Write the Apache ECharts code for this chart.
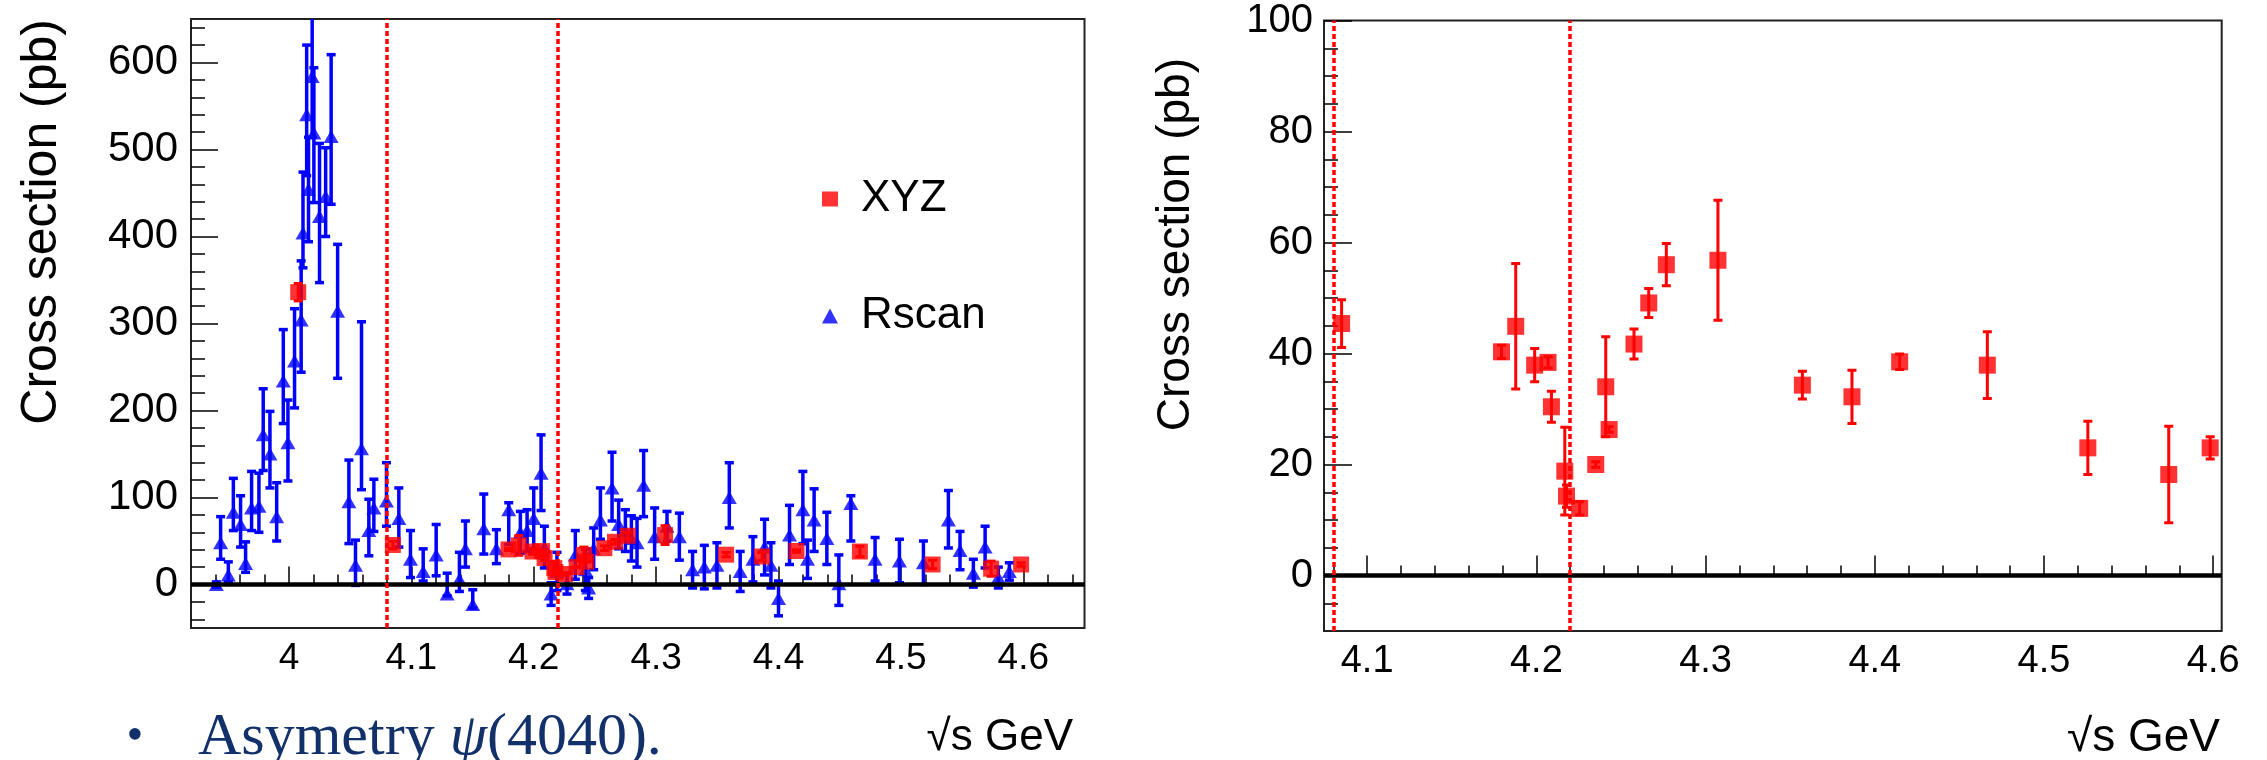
<!DOCTYPE html>
<html><head><meta charset="utf-8">
<script src="https://cdn.jsdelivr.net/npm/echarts@6/dist/echarts.min.js"></script>
<style>html,body{margin:0;padding:0;background:#fff}#c{width:2267px;height:760px}</style>
</head><body><div id="c"></div>
<script>
// ---------------- data ----------------
// Rscan (blue triangles, left panel): energy (GeV), cross section (pb), lower / upper error
const rscanE = [3.9407,3.9442,3.9505,3.9546,3.9605,3.9646,3.9695,3.9755,3.9790,3.9845,3.9900,3.9954,3.9992,4.0046,4.0100,4.0115,4.0145,4.0160,4.0190,4.0204,4.0250,4.0300,4.0345,4.0398,4.0490,4.0544,4.0593,4.0653,4.0694,4.0797,4.0898,4.0993,4.1097,4.1203,4.1293,4.1393,4.1442,4.1502,4.1592,4.1695,4.1796,4.1891,4.1946,4.2000,4.2060,4.2087,4.2142,4.2190,4.2272,4.2340,4.2422,4.2449,4.2490,4.2545,4.2640,4.2694,4.2749,4.2798,4.2844,4.2898,4.2988,4.3089,4.3190,4.3298,4.3394,4.3497,4.3598,4.3687,4.3791,4.3886,4.3938,4.4000,4.4090,4.4199,4.4237,4.4291,4.4395,4.4493,4.4591,4.4789,4.4988,4.5184,4.5388,4.5483,4.5592,4.5688,4.5796,4.5886];
const rscanV = [0,48,11,83,69,24,88,90,172,150,78,234,163,257,304,404,540,454,584,519,423,446,515,314,95,22,156,62,88,96,76,29,15,34,-11,6,41,-23,64,41,86,60,62,76,128,43,-11,15,1,34,17,-4,41,74,111,69,62,53,48,114,55,67,55,17,20,22,100,15,29,43,22,-16,57,86,29,74,53,1,93,29,27,25,74,39,13,43,8,15];
const rscanErrLo = [3,19,8,21,26,10,26,30,41,39,28,49,44,54,60,40,70,60,70,80,76,46,78,77,48,23,47,29,27,29,33,21,11,24,2,14,21,4,29,17,40,24,24,35,43,24,13,22,12,28,24,12,24,22,38,28,24,26,28,36,26,17,27,21,25,26,35,23,26,32,26,20,34,39,22,36,30,25,43,25,25,25,32,22,16,24,12,10];
const rscanErrHi = [3,30,15,39,33,25,42,38,53,49,39,59,49,60,68,70,80,60,80,75,84,56,94,77,48,29,146,36,33,44,35,33,26,35,24,31,32,17,40,22,8,24,24,35,44,24,13,22,12,28,24,12,24,37,41,28,24,26,28,40,33,17,27,21,25,26,40,23,26,32,26,20,34,44,22,36,30,33,9,25,25,25,34,22,16,24,12,10];

// XYZ (red squares, both panels)
const xyzE = [4.0076,4.0849,4.1794,4.1878,4.1990,4.2069,4.2089,4.2168,4.2178,4.2256,4.2351,4.2410,4.2430,4.2577,4.2664,4.2768,4.3073,4.3572,4.3865,4.4147,4.4665,4.5259,4.5737,4.5982];
const xyzV = [336,45.4,40.3,44.9,37.9,38.4,30.4,18.8,14.3,12.1,20.0,34.0,26.3,41.7,49.1,56.0,56.8,34.3,32.2,38.5,37.9,23.0,18.2,23.0];
const xyzErr = [10,4.3,1.2,11.3,3.0,1.0,2.8,7.9,2.0,1.2,0.5,9.0,0.5,2.7,2.6,3.8,10.8,2.5,4.8,1.4,6.0,4.8,8.7,2.0];

// reference lines (GeV)
const thresholdLines = [4.08, 4.2235];

// tick labels
const leftXTicks = [4.0,4.1,4.2,4.3,4.4,4.5,4.6];
const leftYTicks = [0,100,200,300,400,500,600];
const rightXTicks = [4.1,4.2,4.3,4.4,4.5,4.6];
const rightYTicks = [0,20,40,60,80,100];

// minor tick helper (axis decoration only)
function minorTicks(from, to, step, majors) {
  const out = [];
  const n = Math.round((to - from) / step);
  for (let i = 0; i <= n; i++) {
    const v = +(from + i * step).toFixed(4);
    if (!majors.some(m => Math.abs(m - v) < step / 10)) out.push(v);
  }
  return out;
}
const leftXMinor = minorTicks(3.94, 4.64, 0.02, leftXTicks);
const leftYMinor = minorTicks(-40, 640, 20, leftYTicks);
const rightXMinor = minorTicks(4.08, 4.60, 0.02, rightXTicks);
const rightYMinor = minorTicks(-5, 95, 5, rightYTicks);

// ---------------- chart ----------------
const FONT = "'Liberation Sans', Arial, Helvetica, sans-serif";
const BLUE = '#0000ff', RED = '#ff0000';

const rscanRows = rscanE.map((e, i) => [e, rscanV[i], rscanErrLo[i], rscanErrHi[i]]);
const xyzRows = xyzE.map((e, i) => [e, xyzV[i], xyzErr[i], xyzErr[i]]);
const RIGHT_MIN = 4.0745, RIGHT_MAX = 4.605;
const xyzRowsRight = xyzRows.filter(r => r[0] >= RIGHT_MIN && r[0] <= RIGHT_MAX);

function errBar(color, width, cap) {
  return function (params, api) {
    const x = api.value(0), v = api.value(1), lo = api.value(2), hi = api.value(3);
    const t = api.coord([x, v + hi]);
    const b = api.coord([x, v - lo]);
    const st = { stroke: color, lineWidth: width };
    return {
      type: 'group',
      children: [
        { type: 'line', shape: { x1: t[0], y1: t[1], x2: b[0], y2: b[1] }, style: st },
        { type: 'line', shape: { x1: t[0] - cap, y1: t[1], x2: t[0] + cap, y2: t[1] }, style: st },
        { type: 'line', shape: { x1: b[0] - cap, y1: b[1], x2: b[0] + cap, y2: b[1] }, style: st }
      ]
    };
  };
}

function majorX(grid, min, max, ticks, len, fs) {
  return {
    type: 'value', gridIndex: grid, min: min, max: max, position: 'bottom',
    axisLine: { show: false }, splitLine: { show: false },
    axisTick: { show: true, inside: true, length: len, customValues: ticks, lineStyle: { color: '#000', width: 1.5 } },
    axisLabel: { show: true, customValues: ticks, fontSize: fs, fontFamily: FONT, color: '#000', margin: 12,
      formatter: v => String(+(+v).toFixed(1)) }
  };
}
function minorX(grid, min, max, ticks, len) {
  return {
    type: 'value', gridIndex: grid, min: min, max: max, position: 'bottom',
    axisLine: { show: false }, splitLine: { show: false }, axisLabel: { show: false },
    axisTick: { show: true, inside: true, length: len, customValues: ticks, lineStyle: { color: '#000', width: 1.5 } }
  };
}
function majorY(grid, min, max, ticks, len, fs, margin) {
  return {
    type: 'value', gridIndex: grid, min: min, max: max, position: 'left',
    axisLine: { show: false }, splitLine: { show: false },
    axisTick: { show: true, inside: true, length: len, customValues: ticks, lineStyle: { color: '#000', width: 1.5 } },
    axisLabel: { show: true, customValues: ticks, fontSize: fs, fontFamily: FONT, color: '#000', margin: margin }
  };
}
function minorY(grid, min, max, ticks, len) {
  return {
    type: 'value', gridIndex: grid, min: min, max: max, position: 'left',
    axisLine: { show: false }, splitLine: { show: false }, axisLabel: { show: false },
    axisTick: { show: true, inside: true, length: len, customValues: ticks, lineStyle: { color: '#000', width: 1.5 } }
  };
}

function refLines() {
  return {
    silent: true, symbol: 'none', animation: false,
    label: { show: false },
    lineStyle: { width: 4.5, opacity: 1 },
    emphasis: { disabled: true },
    data: [
      { yAxis: 0, lineStyle: { color: '#000', width: 4.5, type: 'solid' } },
      ...thresholdLines.map(x => ({ xAxis: x, lineStyle: { color: RED, width: 3.5, type: [5, 3] } }))
    ]
  };
}

const chart = echarts.init(document.getElementById('c'), null, { renderer: 'canvas' });
chart.setOption({
  animation: false,
  backgroundColor: '#fff',
  textStyle: { fontFamily: FONT },
  grid: [
    { left: 191, top: 19, width: 893.5, height: 609, show: true, borderColor: '#222', borderWidth: 2, backgroundColor: 'transparent' },
    { left: 1324, top: 20.5, width: 897.7, height: 610.5, show: true, borderColor: '#222', borderWidth: 2, backgroundColor: 'transparent' }
  ],
  xAxis: [
    majorX(0, 3.92, 4.65, leftXTicks, 18, 37),
    minorX(0, 3.92, 4.65, leftXMinor, 10),
    majorX(1, RIGHT_MIN, RIGHT_MAX, rightXTicks, 20, 38),
    minorX(1, RIGHT_MIN, RIGHT_MAX, rightXMinor, 10)
  ],
  yAxis: [
    majorY(0, -50, 650, leftYTicks, 27, 42, 13),
    minorY(0, -50, 650, leftYMinor, 14),
    majorY(1, -10, 100, rightYTicks, 28, 40, 11),
    minorY(1, -10, 100, rightYMinor, 14)
  ],
  legend: {
    show: true, orient: 'vertical', left: 817, top: 172, itemGap: 73,
    itemWidth: 16, itemHeight: 15,
    textStyle: { fontSize: 44, fontFamily: FONT, color: '#000', padding: [0, 0, 0, 18] },
    data: [{ name: 'XYZ', icon: 'rect' }, { name: 'Rscan', icon: 'triangle' }],
    selectedMode: false
  },
  series: [
    { type: 'custom', name: 'Rscan err', xAxisIndex: 0, yAxisIndex: 0, clip: true, z: 2,
      renderItem: errBar(BLUE, 3.5, 4.5), data: rscanRows, encode: { x: 0, y: 1 } },
    { type: 'scatter', name: 'Rscan', xAxisIndex: 0, yAxisIndex: 0, clip: true, z: 3,
      symbol: 'triangle', symbolSize: [15, 13], itemStyle: { color: BLUE },
      data: rscanRows.map(r => [r[0], r[1]]) },
    { type: 'custom', name: 'XYZ err L', xAxisIndex: 0, yAxisIndex: 0, clip: true, z: 4,
      renderItem: errBar(RED, 3, 4.5), data: xyzRows, encode: { x: 0, y: 1 } },
    { type: 'scatter', name: 'XYZ', xAxisIndex: 0, yAxisIndex: 0, clip: true, z: 5,
      symbol: 'rect', symbolSize: 16, itemStyle: { color: RED },
      data: xyzRows.map(r => [r[0], r[1]]), markLine: refLines() },
    { type: 'custom', name: 'XYZ err R', xAxisIndex: 2, yAxisIndex: 2, clip: true, z: 4,
      renderItem: errBar(RED, 3, 4.5), data: xyzRowsRight, encode: { x: 0, y: 1 } },
    { type: 'scatter', name: 'XYZ', xAxisIndex: 2, yAxisIndex: 2, clip: true, z: 5,
      symbol: 'rect', symbolSize: 17, itemStyle: { color: RED },
      data: xyzRowsRight.map(r => [r[0], r[1]]), markLine: refLines() }
  ],
  graphic: [
    { type: 'text', x: 42, y: 19, rotation: Math.PI / 2, silent: true,
      style: { text: 'Cross section (pb)', fontSize: 50, fontFamily: FONT, fill: '#000', align: 'right', verticalAlign: 'middle' } },
    { type: 'text', x: 1176, y: 58, rotation: Math.PI / 2, silent: true,
      style: { text: 'Cross section (pb)', fontSize: 46, fontFamily: FONT, fill: '#000', align: 'right', verticalAlign: 'middle' } },
    { type: 'text', x: 1073, y: 738, silent: true,
      style: { text: '\u221As GeV', fontSize: 44, fontFamily: FONT, fill: '#000', align: 'right', verticalAlign: 'middle' } },
    { type: 'text', x: 2220, y: 738, silent: true,
      style: { text: '\u221As GeV', fontSize: 46, fontFamily: FONT, fill: '#000', align: 'right', verticalAlign: 'middle' } },
    { type: 'text', x: 135, y: 737, silent: true,
      style: { text: '\u2022', fontSize: 48, fontFamily: "'Liberation Serif', serif", fill: '#12306a', align: 'center', verticalAlign: 'middle' } },
    { type: 'text', x: 198, y: 738, silent: true,
      style: { text: 'Asymetry {i|\u03C8}(4040).', fontSize: 60, fontFamily: "'Liberation Serif', serif", fill: '#12306a', align: 'left', verticalAlign: 'middle',
        rich: { i: { fontStyle: 'italic', fontSize: 60, fontFamily: "'Liberation Serif', serif", fill: '#12306a' } } } }
  ]
});
</script>
</body></html>
